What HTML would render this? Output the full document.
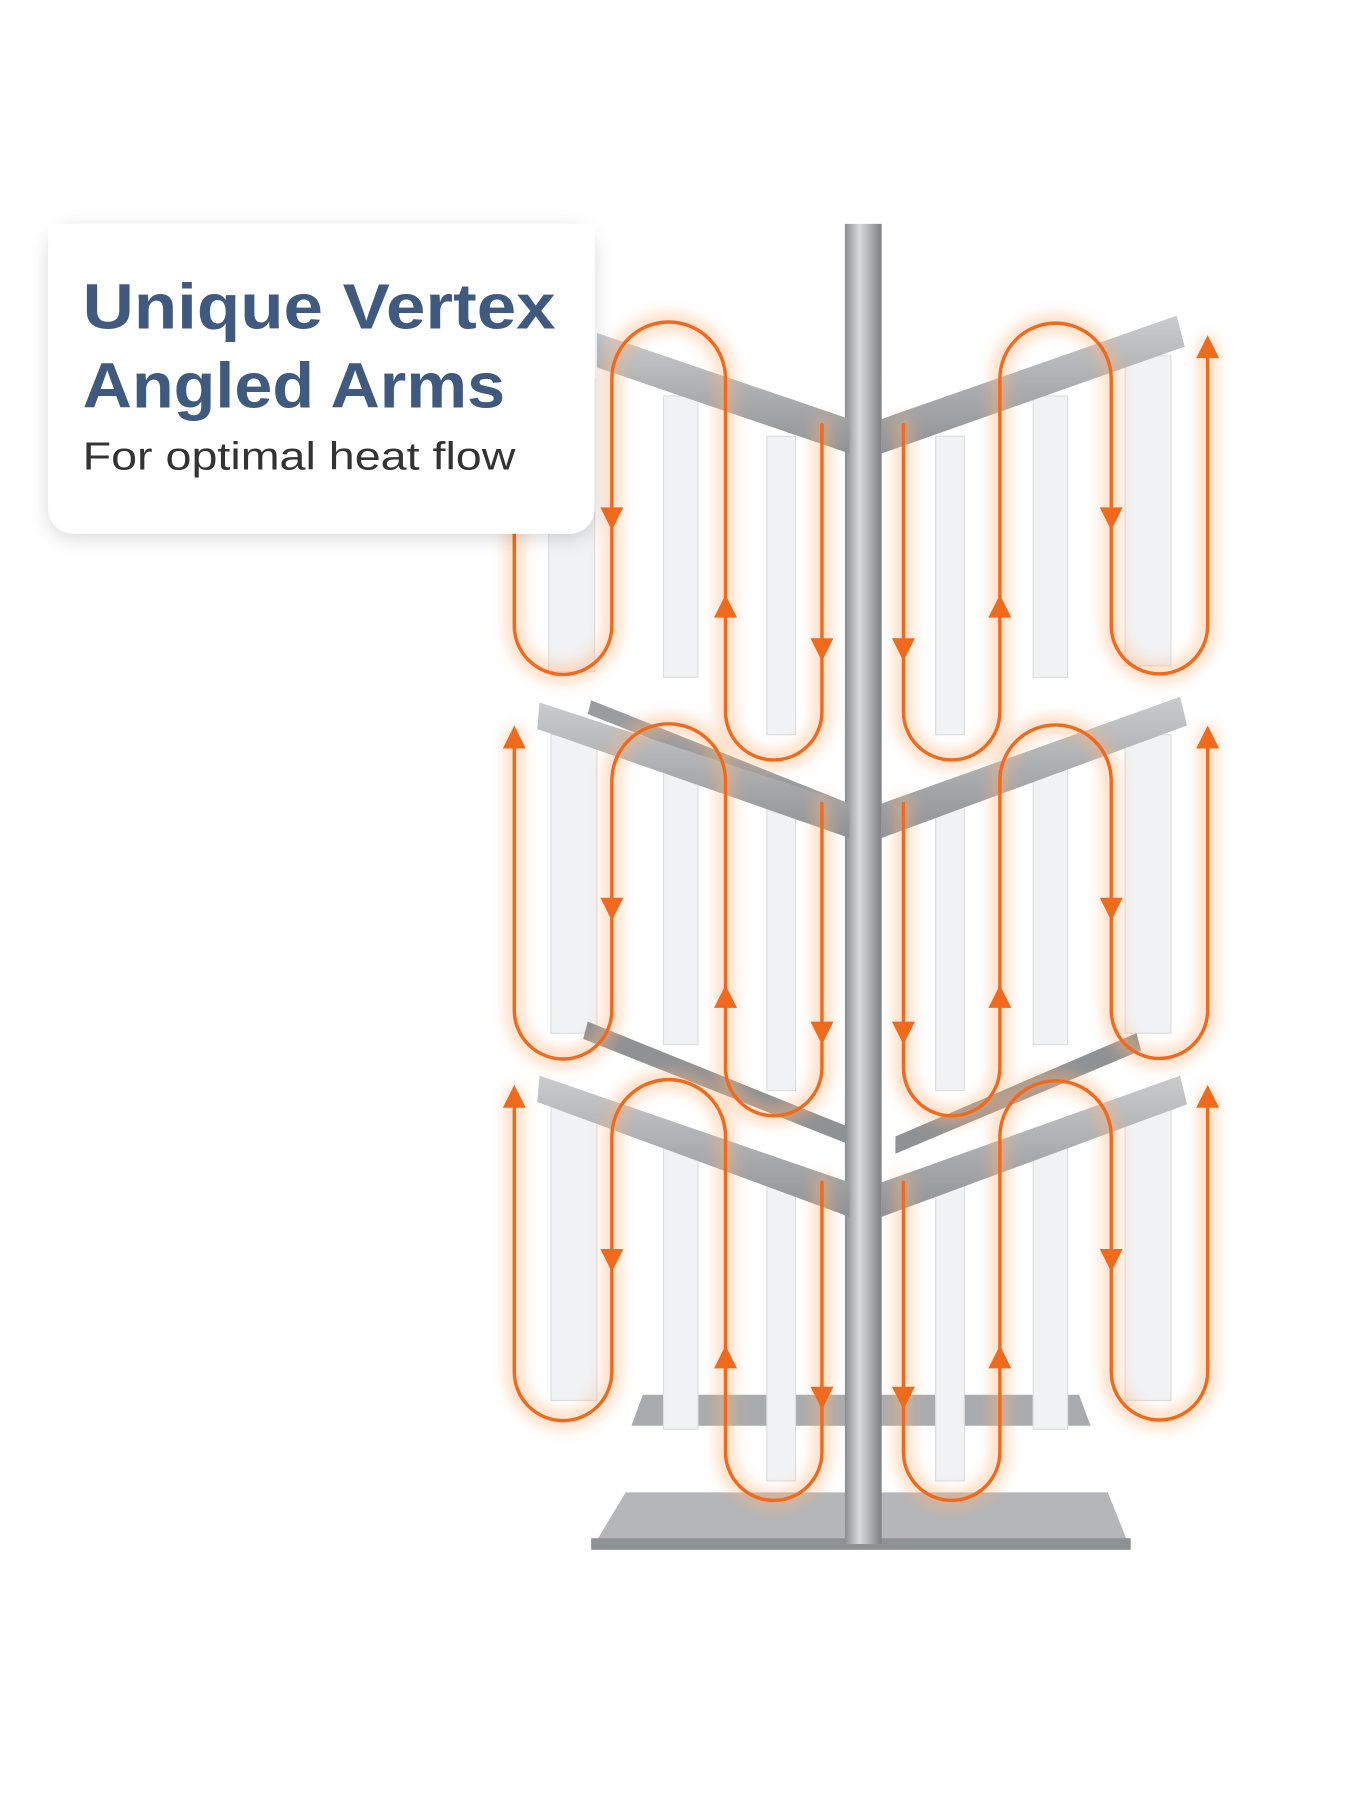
<!DOCTYPE html>
<html><head><meta charset="utf-8"><style>
html,body{margin:0;padding:0;background:#fff;}
svg{display:block;}
</style></head><body>
<svg width="1350" height="1800" viewBox="0 0 1176 1568" xmlns="http://www.w3.org/2000/svg">
<defs>
<linearGradient id="pole" x1="0" x2="1"><stop offset="0" stop-color="#8a8d90"/><stop offset="0.4" stop-color="#d8dadc"/><stop offset="1" stop-color="#7d8084"/></linearGradient>
<linearGradient id="arm" x1="0" y1="0" x2="0" y2="1"><stop offset="0" stop-color="#c9cbcd"/><stop offset="1" stop-color="#8f9295"/></linearGradient>
<filter id="blur" x="-20%" y="-20%" width="140%" height="140%"><feGaussianBlur stdDeviation="6"/></filter>
<filter id="sh" x="-10%" y="-10%" width="120%" height="130%"><feDropShadow dx="0" dy="4" stdDeviation="8" flood-color="#000" flood-opacity="0.15"/></filter>
</defs>
<rect width="1176" height="1568" fill="#fff"/>
<path d="M560,1215 L940,1215 L950,1242 L550,1242 Z" fill="#a9acae"/>
<path d="M545,1300 L965,1300 L985,1350 L515,1350 Z" fill="#b4b6b8"/>
<path d="M515,1340 L985,1340 L985,1350 L515,1350 Z" fill="#8e9194"/>
<g fill="#f1f2f3" stroke="#dcdde0" stroke-width="1">
<rect x="478" y="330" width="40" height="255"/><rect x="578" y="345" width="30" height="245"/><rect x="668" y="380" width="25" height="260"/>
<rect x="815" y="380" width="25" height="260"/><rect x="900" y="345" width="30" height="245"/><rect x="980" y="310" width="40" height="270"/>
<rect x="480" y="640" width="40" height="260"/><rect x="578" y="660" width="30" height="250"/><rect x="668" y="695" width="25" height="255"/>
<rect x="815" y="695" width="25" height="255"/><rect x="900" y="660" width="30" height="250"/><rect x="980" y="640" width="40" height="260"/>
<rect x="480" y="960" width="40" height="260"/><rect x="578" y="985" width="30" height="260"/><rect x="668" y="1020" width="25" height="270"/>
<rect x="815" y="1020" width="25" height="270"/><rect x="900" y="985" width="30" height="260"/><rect x="980" y="960" width="40" height="260"/>
</g>
<path d="M512,890 L760,990 L760,1005 L508,905 Z" fill="#8f9295"/>
<path d="M780,990 L990,900 L994,915 L780,1005 Z" fill="#8f9295"/>
<path d="M515,610 L740,700 L740,712 L512,622 Z" fill="#9a9da0"/>
<rect x="736" y="195" width="32" height="1150" fill="url(#pole)"/>
<g fill="url(#arm)">
<path d="M520,290 L740,365 L740,395 L520,320 Z"/>
<path d="M768,365 L1025,275 L1032,302 L768,395 Z"/>
<path d="M470,612 L740,700 L740,730 L468,635 Z"/>
<path d="M768,700 L1028,607 L1034,632 L768,730 Z"/>
<path d="M470,937 L740,1030 L740,1060 L468,960 Z"/>
<path d="M768,1030 L1028,937 L1034,962 L768,1060 Z"/>
</g>
<g fill="none" stroke-linecap="round">
<g stroke="#ffb37a" stroke-width="16" opacity="0.45" filter="url(#blur)">
<path d="M448,460 V545 A42.5,42.5 0 0 0 533,545 V330 A49.5,49.5 0 0 1 632,330 V620 A42,42 0 0 0 716,620 V370 M787,370 V620 A42,42 0 0 0 871,620 V330 A48.5,48.5 0 0 1 968,330 V545 A42,42 0 0 0 1052,545 V300"/>
<path d="M448,640 V880 A42.5,42.5 0 0 0 533,880 V680 A49.5,49.5 0 0 1 632,680 V930 A42,42 0 0 0 716,930 V700 M787,700 V930 A42,42 0 0 0 871,930 V680 A48.5,48.5 0 0 1 968,680 V880 A42,42 0 0 0 1052,880 V640"/>
<path d="M448,955 V1195 A42.5,42.5 0 0 0 533,1195 V990 A49.5,49.5 0 0 1 632,990 V1265 A42,42 0 0 0 716,1265 V1030 M787,1030 V1265 A42,42 0 0 0 871,1265 V990 A48.5,48.5 0 0 1 968,990 V1195 A42,42 0 0 0 1052,1195 V955"/>
</g>
<g stroke="#f06a1e" stroke-width="3">
<path d="M448,460 V545 A42.5,42.5 0 0 0 533,545 V330 A49.5,49.5 0 0 1 632,330 V620 A42,42 0 0 0 716,620 V370 M787,370 V620 A42,42 0 0 0 871,620 V330 A48.5,48.5 0 0 1 968,330 V545 A42,42 0 0 0 1052,545 V300"/>
<path d="M448,640 V880 A42.5,42.5 0 0 0 533,880 V680 A49.5,49.5 0 0 1 632,680 V930 A42,42 0 0 0 716,930 V700 M787,700 V930 A42,42 0 0 0 871,930 V680 A48.5,48.5 0 0 1 968,680 V880 A42,42 0 0 0 1052,880 V640"/>
<path d="M448,955 V1195 A42.5,42.5 0 0 0 533,1195 V990 A49.5,49.5 0 0 1 632,990 V1265 A42,42 0 0 0 716,1265 V1030 M787,1030 V1265 A42,42 0 0 0 871,1265 V990 A48.5,48.5 0 0 1 968,990 V1195 A42,42 0 0 0 1052,1195 V955"/>
</g>
</g>
<g fill="#f06a1e">
<path d="M523,442 L543,442 L533,462 Z"/><path d="M706,556 L726,556 L716,576 Z"/><path d="M777,556 L797,556 L787,576 Z"/><path d="M958,442 L978,442 L968,462 Z"/>
<path d="M523,782 L543,782 L533,802 Z"/><path d="M706,890 L726,890 L716,910 Z"/><path d="M777,890 L797,890 L787,910 Z"/><path d="M958,782 L978,782 L968,802 Z"/>
<path d="M523,1088 L543,1088 L533,1108 Z"/><path d="M706,1208 L726,1208 L716,1228 Z"/><path d="M777,1208 L797,1208 L787,1228 Z"/><path d="M958,1088 L978,1088 L968,1108 Z"/>
<path d="M622,538 L642,538 L632,518 Z"/><path d="M861,538 L881,538 L871,518 Z"/><path d="M1042,312 L1062,312 L1052,292 Z"/>
<path d="M438,652 L458,652 L448,632 Z"/><path d="M622,878 L642,878 L632,858 Z"/><path d="M861,878 L881,878 L871,858 Z"/><path d="M1042,652 L1062,652 L1052,632 Z"/>
<path d="M438,965 L458,965 L448,945 Z"/><path d="M622,1192 L642,1192 L632,1172 Z"/><path d="M861,1192 L881,1192 L871,1172 Z"/><path d="M1042,965 L1062,965 L1052,945 Z"/>
</g>
<rect x="42" y="195" width="476" height="270" rx="22" fill="#fff" filter="url(#sh)"/>
<rect x="42" y="195" width="476" height="30" fill="#fff"/>
<text x="72" y="286" font-family="Liberation Sans, sans-serif" font-size="56" font-weight="bold" fill="#3f5a7e" textLength="412" lengthAdjust="spacingAndGlyphs">Unique Vertex</text>
<text x="72" y="355" font-family="Liberation Sans, sans-serif" font-size="56" font-weight="bold" fill="#3f5a7e" textLength="368" lengthAdjust="spacingAndGlyphs">Angled Arms</text>
<text x="72" y="409" font-family="Liberation Sans, sans-serif" font-size="34" fill="#333" textLength="377" lengthAdjust="spacingAndGlyphs">For optimal heat flow</text>
</svg>
</body></html>
